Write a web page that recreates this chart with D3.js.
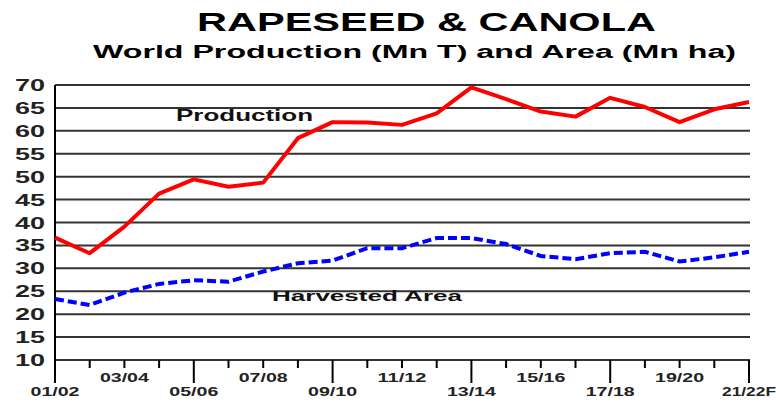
<!DOCTYPE html>
<html>
<head>
<meta charset="utf-8">
<script src="https://cdn.jsdelivr.net/npm/d3@7"></script>
<style>
  body { margin: 0; background: #fff; }
  text { font-family: "Liberation Sans", Arial, sans-serif; font-weight: bold; }
</style>
</head>
<body>
<div id="chart"></div>
<script>
// data
var seasons = ["01/02","02/03","03/04","04/05","05/06","06/07","07/08","08/09","09/10","10/11",
               "11/12","12/13","13/14","14/15","15/16","16/17","17/18","18/19","19/20","20/21","21/22F"];
var production = [36.7, 33.3, 39.1, 46.3, 49.4, 47.8, 48.7, 58.4, 61.9, 61.8,
                  61.3, 63.8, 69.5, 66.9, 64.2, 63.1, 67.2, 65.2, 61.9, 64.7, 66.3];
var area = [23.3, 22.0, 24.7, 26.6, 27.4, 27.1, 29.3, 31.1, 31.7, 34.4,
            34.4, 36.6, 36.6, 35.3, 32.7, 32.0, 33.3, 33.6, 31.5, 32.4, 33.6];
var yTicks = [10, 15, 20, 25, 30, 35, 40, 45, 50, 55, 60, 65, 70];

// plot box (don't use "top" as a global, it clashes with window.top)
var W = 776, H = 402;
var plot = {x0: 55, x1: 749, y0: 85, y1: 360};

var svg = d3.select("#chart").append("svg")
  .attr("width", W)
  .attr("height", H);

var x = d3.scalePoint().domain(seasons).range([plot.x0, plot.x1]);
var y = d3.scaleLinear().domain([10, 70]).range([plot.y1, plot.y0]);

// titles (the source text is stretched wide, so fix the lengths)
svg.append("text")
  .attr("x", 197).attr("y", 31)
  .attr("font-size", 25)
  .attr("textLength", 459).attr("lengthAdjust", "spacingAndGlyphs")
  .attr("fill", "#000")
  .text("RAPESEED & CANOLA");

svg.append("text")
  .attr("x", 93).attr("y", 58)
  .attr("font-size", 18)
  .attr("textLength", 643).attr("lengthAdjust", "spacingAndGlyphs")
  .attr("fill", "#000")
  .text("World Production (Mn T) and Area (Mn ha)");

// horizontal grid
svg.append("g").selectAll("line")
  .data(yTicks)
  .enter().append("line")
  .attr("x1", plot.x0).attr("x2", plot.x1 + 1)
  .attr("y1", function(d) { return y(d); })
  .attr("y2", function(d) { return y(d); })
  .attr("stroke", "#333")
  .attr("stroke-width", 2);

// y labels
svg.append("g").selectAll("text")
  .data(yTicks)
  .enter().append("text")
  .attr("x", 15)
  .attr("y", function(d) { return y(d) + 6; })
  .attr("font-size", 16)
  .attr("textLength", 30).attr("lengthAdjust", "spacingAndGlyphs")
  .attr("fill", "#222")
  .text(function(d) { return d; });

// y axis line
svg.append("line")
  .attr("x1", plot.x0).attr("x2", plot.x0)
  .attr("y1", plot.y0).attr("y2", plot.y1 + 23)
  .attr("stroke", "#000")
  .attr("stroke-width", 2);

// x ticks: long every 4 seasons, short otherwise
svg.append("g").selectAll("line")
  .data(seasons)
  .enter().append("line")
  .attr("x1", function(d) { return x(d); })
  .attr("x2", function(d) { return x(d); })
  .attr("y1", plot.y1)
  .attr("y2", function(d, i) { return i % 4 == 0 ? plot.y1 + 23 : plot.y1 + 8; })
  .attr("stroke", "#000")
  .attr("stroke-width", 2);

// x labels on every other season, staggered
svg.append("g").selectAll("text")
  .data(seasons.filter(function(d, i) { return i % 2 == 0; }))
  .enter().append("text")
  .attr("x", function(d) { return x(d); })
  .attr("y", function(d, i) { return i % 2 == 0 ? 396 : 382; })
  .attr("text-anchor", "middle")
  .attr("font-size", 12.5)
  .attr("textLength", function(d) { return d.length > 5 ? 54 : 49; })
  .attr("lengthAdjust", "spacingAndGlyphs")
  .attr("fill", "#222")
  .text(function(d) { return d; });

var line = d3.line()
  .x(function(d, i) { return x(seasons[i]); })
  .y(function(d) { return y(d); });

// production
svg.append("path")
  .datum(production)
  .attr("d", line)
  .attr("fill", "none")
  .attr("stroke", "#ff0000")
  .attr("stroke-width", 4)
  .attr("stroke-linejoin", "round");

// harvested area
svg.append("path")
  .datum(area)
  .attr("d", line)
  .attr("fill", "none")
  .attr("stroke", "#0000ff")
  .attr("stroke-width", 4)
  .attr("stroke-dasharray", "9,4");

// series labels
svg.append("text")
  .attr("x", 176).attr("y", 121)
  .attr("font-size", 16)
  .attr("textLength", 137).attr("lengthAdjust", "spacingAndGlyphs")
  .attr("fill", "#111")
  .text("Production");

svg.append("text")
  .attr("x", 272).attr("y", 301)
  .attr("font-size", 15)
  .attr("textLength", 190).attr("lengthAdjust", "spacingAndGlyphs")
  .attr("fill", "#111")
  .text("Harvested Area");
</script>
</body>
</html>
